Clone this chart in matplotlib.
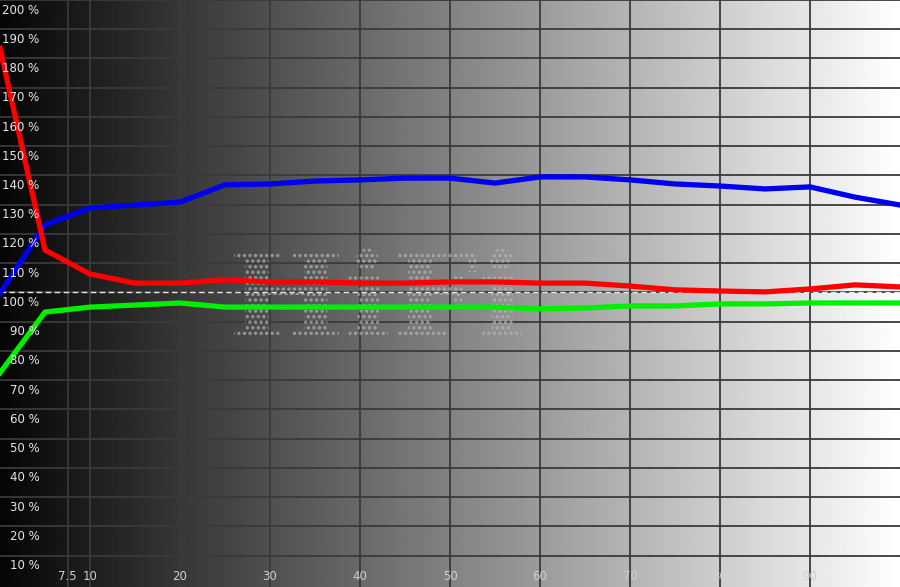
import numpy as np
import matplotlib
matplotlib.use("Agg")
import matplotlib.pyplot as plt
from matplotlib.textpath import TextPath
from matplotlib.patches import PathPatch
from matplotlib.font_manager import FontProperties
from matplotlib.transforms import Affine2D

# grayscale stimulus level (%) and RGB balance (%)
levels = [0, 5, 10, 15, 20, 25, 30, 35, 40, 45, 50,
          55, 60, 65, 70, 75, 80, 85, 90, 95, 100]
red = [183.5, 114.5, 106.3, 103.2, 103.2, 104.3, 103.6, 103.6, 103.2, 103.2, 103.6,
       103.6, 103.2, 103.2, 102.2, 100.9, 100.5, 100.2, 101.2, 102.6, 101.9]
green = [72.5, 93.3, 95.0, 95.7, 96.4, 95.0, 95.0, 95.0, 95.0, 95.0, 95.0,
         95.0, 94.4, 94.7, 95.4, 95.4, 96.1, 96.1, 96.4, 96.4, 96.4]
blue = [99.8, 123.1, 128.9, 129.9, 130.9, 136.8, 137.1, 138.1, 138.5, 139.1, 139.1,
        137.4, 139.5, 139.5, 138.5, 137.1, 136.4, 135.4, 136.1, 132.6, 129.9]

x_ticks = [7.5, 10, 20, 30, 40, 50, 60, 70, 80, 90]
x_tick_labels = ["7.5", "10", "20", "30", "40", "50", "60", "70", "80", "90"]
y_ticks = list(range(10, 201, 10))

fig = plt.figure(figsize=(9, 5.87), dpi=100)
ax = fig.add_axes([0, 0, 1, 1])
ax.set_xlim(0, 100)
ax.set_ylim(-0.7, 200)
ax.axis("off")

# black to white background ramp
ramp = np.linspace(0.02, 1.0, 512).reshape(1, -1)
ax.imshow(ramp, cmap="gray", vmin=0, vmax=1, aspect="auto",
          extent=[0, 100, -0.7, 200], zorder=0)

# grid
for v in y_ticks:
    ax.axhline(v, color="#3a3a3a", lw=1.3, zorder=1)
for v in x_ticks:
    ax.axvline(v, color="#3a3a3a", lw=1.3, zorder=1)

# watermark made of dots
tp = TextPath((0, 0), "HiFi", size=1,
              prop=FontProperties(family="DejaVu Serif", weight="bold"))
bb = tp.get_extents()
tr = Affine2D().translate(-bb.x0, -bb.y0).scale(32 / bb.width, 30 / bb.height).translate(26, 85)
plt.rcParams["hatch.linewidth"] = 1.6
wm = PathPatch(tr.transform_path(tp), facecolor="none",
               edgecolor=(0.72, 0.72, 0.72, 0.7), hatch="...", lw=0, zorder=2)
ax.add_patch(wm)

# 100% reference line
ax.axhline(100, color="#e8e8e8", lw=1.0, ls=(0, (4, 2.5)), zorder=3)

ax.plot(levels, blue, color="#0000f0", lw=3.8, zorder=4)
ax.plot(levels, red, color="#ff0000", lw=3.8, zorder=5)
ax.plot(levels, green, color="#00f000", lw=3.8, zorder=4)

for v in y_ticks:
    ax.text(4.4, v - 1.2, f"{v} %", color="#e6e6e6", fontsize=8.5,
            ha="right", va="top", zorder=6)
for v, lab in zip(x_ticks, x_tick_labels):
    ax.text(v, 2.8, lab, color="#d0d0d0", fontsize=8.5,
            ha="center", va="center", zorder=6)

fig.savefig("out.png", dpi=100)
